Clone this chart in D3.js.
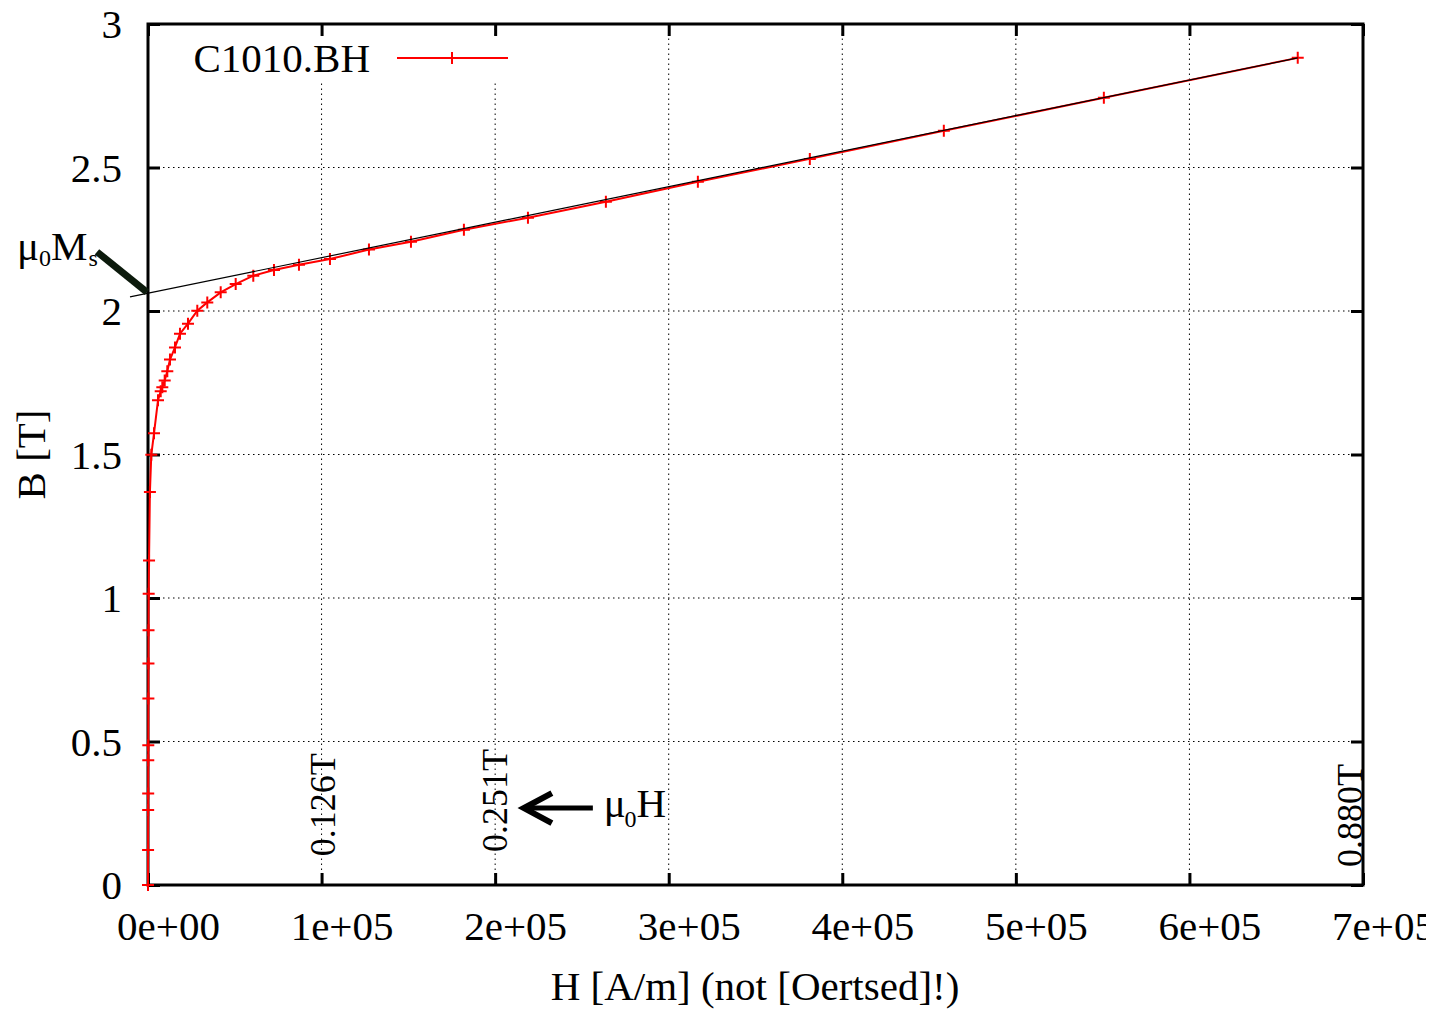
<!DOCTYPE html>
<html>
<head>
<meta charset="utf-8">
<script src="https://cdn.jsdelivr.net/npm/d3@7/dist/d3.min.js"></script>
<style>
  html, body { margin: 0; padding: 0; background: #fff; }
  svg { display: block; }
  text { font-family: "Liberation Serif", "Times New Roman", serif; fill: #000; }
</style>
</head>
<body>
<svg id="chart" width="1437" height="1013"></svg>
<script>
// ---- data ----
const seriesName = "C1010.BH";
const H = [0, 40, 90, 110, 150, 170, 220, 260, 300, 400, 600, 1100, 1900, 3460, 5760, 7320, 8240, 9620, 11120,
  12670, 15550, 18430, 23040, 28400, 34160, 41880, 50520, 60660, 72580, 86980, 104840, 127300, 151500,
  182000, 218900, 263800, 316800, 381300, 458500, 550700, 662400];
const B = [0, 0.122, 0.261, 0.319, 0.435, 0.487, 0.650, 0.772, 0.888, 1.015, 1.131, 1.369, 1.499, 1.574, 1.689, 1.720, 1.734, 1.758, 1.790,
  1.831, 1.873, 1.921, 1.956, 2.001, 2.030, 2.065, 2.094, 2.123, 2.143, 2.161, 2.181, 2.214, 2.241,
  2.283, 2.325, 2.381, 2.450, 2.530, 2.628, 2.743, 2.882];
const xTicks = [0, 1e5, 2e5, 3e5, 4e5, 5e5, 6e5, 7e5];
const yTicks = [0, 0.5, 1, 1.5, 2, 2.5, 3];
const mu0 = 4 * Math.PI * 1e-7;
const mu0Ms = 2.062;               // intercept of saturation line
const fitSlope = 1.238e-6;         // slope of drawn saturation line
const fitH = [-10370, 662400];     // extent of the saturation line
const fieldLabels = [1e5, 2e5, 7e5]; // mu0*H labels at these H
const xTitle = "H [A/m] (not [Oertsed]!)";
const yTitle = "B [T]";

// ---- layout ----
const svg = d3.select("#chart");
const x = d3.scaleLinear().domain([0, 7e5]).range([148, 1363]);
const y = d3.scaleLinear().domain([0, 3]).range([885, 24]);
const FS = 41;

svg.append("defs").append("clipPath").attr("id", "pageclip")
  .append("rect").attr("x", 0).attr("y", 0).attr("width", 1426).attr("height", 1013);
const root = svg.append("g").attr("clip-path", "url(#pageclip)");

const fmtX = v => d3.format(".0e")(v).replace(/e([+-])(\d)$/, "e$10$2");
const fmtY = d3.format("~g");

// grid
const grid = root.append("g").attr("stroke", "#000").attr("stroke-width", 1).attr("stroke-dasharray", "1.5,3.5");
grid.selectAll("line.gx").data(xTicks.slice(1, -1)).join("line")
  .attr("x1", d => x(d)).attr("x2", d => x(d)).attr("y1", y(0)).attr("y2", y(3));
grid.selectAll("line.gy").data(yTicks.slice(1, -1)).join("line")
  .attr("y1", d => y(d)).attr("y2", d => y(d)).attr("x1", x(0)).attr("x2", x(7e5));

// legend background (opaque key box)
root.append("rect").attr("x", 165).attr("y", 37).attr("width", 360).attr("height", 44).attr("fill", "#fff");

// axes
const tickLen = 12;
const gx = root.append("g").attr("transform", `translate(0,${y(0)})`)
  .call(d3.axisBottom(x).tickValues(xTicks).tickFormat(fmtX).tickSizeInner(-tickLen).tickSizeOuter(0));
gx.select(".domain").remove();
gx.selectAll("line").attr("stroke-width", 3);
gx.selectAll("text").attr("x", 20).attr("y", 55).attr("dy", 0).style("font-size", FS + "px").style("font-family", "Liberation Serif");

const gt = root.append("g").attr("transform", `translate(0,${y(3)})`)
  .call(d3.axisTop(x).tickValues(xTicks).tickFormat("").tickSizeInner(-tickLen).tickSizeOuter(0));
gt.select(".domain").remove();
gt.selectAll("line").attr("stroke-width", 3);

const gy = root.append("g").attr("transform", `translate(${x(0)},0)`)
  .call(d3.axisLeft(y).tickValues(yTicks).tickFormat(fmtY).tickSizeInner(-tickLen).tickSizeOuter(0));
gy.select(".domain").remove();
gy.selectAll("line").attr("stroke-width", 3);
gy.selectAll("text").attr("x", -26).attr("dy", "0.34em").style("font-size", FS + "px").style("font-family", "Liberation Serif");

const gr = root.append("g").attr("transform", `translate(${x(7e5)},0)`)
  .call(d3.axisRight(y).tickValues(yTicks).tickFormat("").tickSizeInner(-tickLen).tickSizeOuter(0));
gr.select(".domain").remove();
gr.selectAll("line").attr("stroke-width", 3);

// frame
root.append("rect").attr("x", x(0)).attr("y", y(3)).attr("width", x(7e5) - x(0)).attr("height", y(0) - y(3))
  .attr("fill", "none").attr("stroke", "#000").attr("stroke-width", 3);

// axis titles
root.append("text").attr("x", 755).attr("y", 1000).attr("text-anchor", "middle").style("font-size", FS + "px").text(xTitle);
root.append("text").attr("transform", `translate(45,${(y(0) + y(3)) / 2}) rotate(-90)`).attr("text-anchor", "middle")
  .style("font-size", FS + "px").text(yTitle);

// data series
const pts = H.map((h, i) => [h, B[i]]);
const line = d3.line().x(d => x(d[0])).y(d => y(d[1]));
root.append("path").datum(pts).attr("d", line).attr("fill", "none").attr("stroke", "#ff0000").attr("stroke-width", 2);
const ms = 6;
root.append("g").attr("stroke", "#ff0000").attr("stroke-width", 2).selectAll("path").data(pts).join("path")
  .attr("d", d => `M${x(d[0]) - ms},${y(d[1])}h${2 * ms}M${x(d[0])},${y(d[1]) - ms}v${2 * ms}`);

// saturation line B = mu0Ms + slope * H
const fit = fitH.map(h => [h, mu0Ms + fitSlope * h]);
root.append("path").datum(fit).attr("d", line).attr("fill", "none").attr("stroke", "#000").attr("stroke-width", 1.2);

// legend
root.append("text").attr("x", 370).attr("y", 72).attr("text-anchor", "end").style("font-size", FS + "px").text(seriesName);
root.append("line").attr("x1", 397).attr("x2", 508).attr("y1", 58).attr("y2", 58).attr("stroke", "#ff0000").attr("stroke-width", 2);
root.append("path").attr("d", `M${452 - ms},58h${2 * ms}M452,${58 - ms}v${2 * ms}`).attr("stroke", "#ff0000").attr("stroke-width", 2);

// mu0 H labels (rotated)
const fieldOffsets = [[13, 0.1], [12, 0.115], [-1, 0.063]];
fieldLabels.forEach((h, i) => {
  const px = x(h) + fieldOffsets[i][0], py = y(fieldOffsets[i][1]);
  root.append("text").attr("transform", `translate(${px},${py}) rotate(-90)`).style("font-size", "36px")
    .text((mu0 * h).toFixed(3) + "T");
});

// mu0 H arrow
const aTail = [256300, 0.268], aTip = [215400, 0.268];
const tx = x(aTip[0]), ty = y(aTip[1]);
root.append("line").attr("x1", x(aTail[0])).attr("y1", y(aTail[1])).attr("x2", tx + 4).attr("y2", ty)
  .attr("stroke", "#000").attr("stroke-width", 5);
root.append("path").attr("d", `M${tx + 30},${ty - 15}L${tx + 2},${ty}L${tx + 30},${ty + 15}`)
  .attr("fill", "none").attr("stroke", "#000").attr("stroke-width", 6).attr("stroke-linejoin", "miter");
const t1 = root.append("text").attr("x", x(262500)).attr("y", y(0.237)).style("font-size", FS + "px");
t1.append("tspan").text("μ");
t1.append("tspan").attr("dy", 10).attr("dx", -1).style("font-size", "24px").text("0");
t1.append("tspan").attr("dy", -10).attr("dx", 0).text("H");

// mu0 Ms arrow
const mTail = [-29400, 2.206], mTip = [0, mu0Ms];
root.append("line").attr("x1", x(mTail[0])).attr("y1", y(mTail[1])).attr("x2", x(mTip[0]) - 1).attr("y2", y(mTip[1]) - 1)
  .attr("stroke", "#0c1a0c").attr("stroke-width", 7);
const t2 = root.append("text").attr("x", 17).attr("y", 260).style("font-size", FS + "px");
t2.append("tspan").text("μ");
t2.append("tspan").attr("dy", 6).style("font-size", "24px").text("0");
t2.append("tspan").attr("dy", -6).text("M");
t2.append("tspan").attr("dy", 6).attr("dx", 1).style("font-size", "24px").text("s");
</script>
</body>
</html>
